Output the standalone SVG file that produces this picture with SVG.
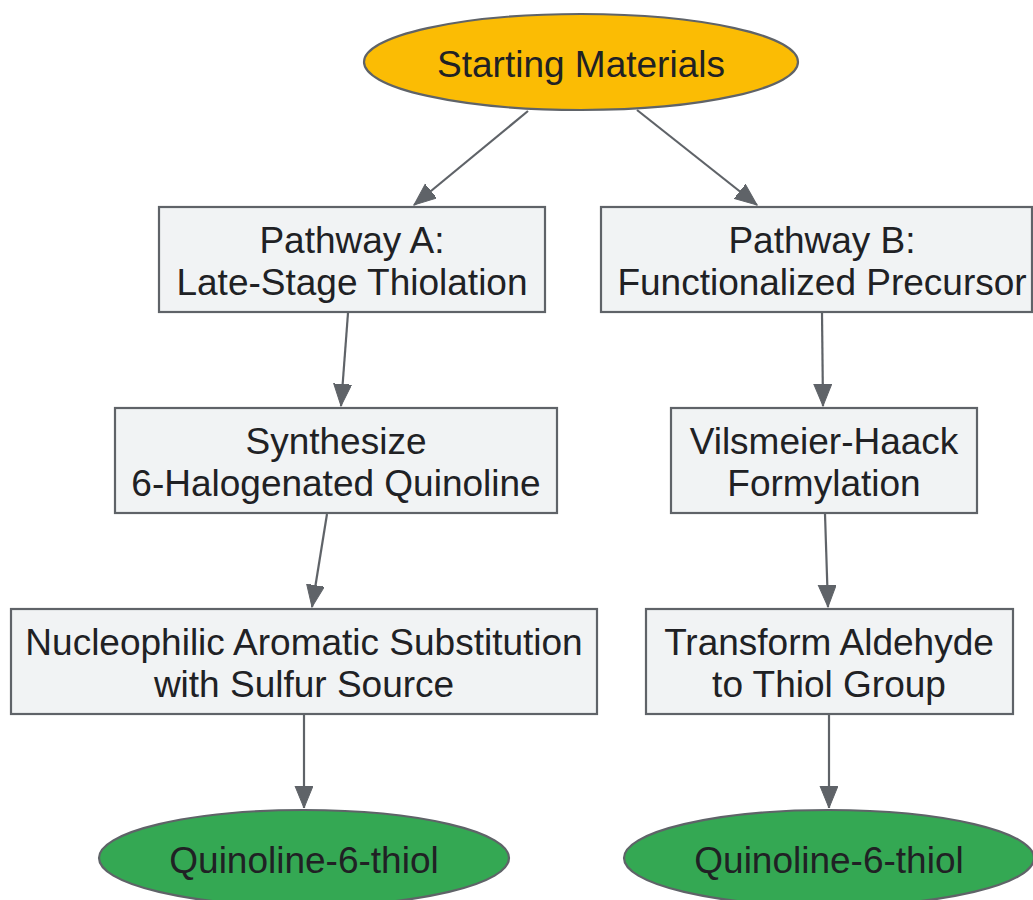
<svg xmlns="http://www.w3.org/2000/svg" width="1033" height="900" viewBox="0 0 1033 900">
<style>
.n{stroke:#5f6368;stroke-width:2.2}
.box{fill:#f1f3f4}
.start{fill:#fbbc04}
.end{fill:#34a853}
text{font-family:"Liberation Sans",Arial,sans-serif;font-size:37px;fill:#202124;text-anchor:middle}
.e{stroke:#5f6368;stroke-width:2.2;fill:none;marker-end:url(#ah)}
</style>
<defs>
<marker id="ah" markerUnits="userSpaceOnUse" markerWidth="24" markerHeight="20" refX="22" refY="9" orient="auto">
<path d="M0,0 L22,9 L0,18 Z" fill="#5f6368" stroke="#5f6368" stroke-width="1"/>
</marker>
</defs>
<rect width="1033" height="900" fill="#ffffff"/>
<g id="connectors">
<path class="e" d="M528,111 L414,205"/>
<path class="e" d="M637,110 L757,205"/>
<path class="e" d="M348,313 L341,406"/>
<path class="e" d="M822,313 L823,406"/>
<path class="e" d="M327,514 L312,607"/>
<path class="e" d="M825,514 L828,607"/>
<path class="e" d="M304,715 L304,808"/>
<path class="e" d="M829,715 L829,808"/>
</g>
<g id="start">
<ellipse class="n start" cx="581" cy="62" rx="217" ry="48"/>
<text x="581" y="77">Starting Materials</text>
</g>
<g id="pathA">
<rect class="n box" x="159" y="207" width="386" height="105"/>
<text x="352" y="253">Pathway A:</text>
<text x="352" y="295">Late-Stage Thiolation</text>
</g>
<g id="pathB">
<rect class="n box" x="601" y="207" width="431" height="105"/>
<text x="822" y="253">Pathway B:</text>
<text x="822" y="295">Functionalized Precursor</text>
</g>
<g id="synth">
<rect class="n box" x="115" y="408" width="442" height="105"/>
<text x="336" y="454">Synthesize</text>
<text x="336" y="496">6-Halogenated Quinoline</text>
</g>
<g id="vils">
<rect class="n box" x="671" y="408" width="306" height="105"/>
<text x="824" y="454">Vilsmeier-Haack</text>
<text x="824" y="496">Formylation</text>
</g>
<g id="snar">
<rect class="n box" x="11" y="609" width="586" height="105"/>
<text x="304" y="655">Nucleophilic Aromatic Substitution</text>
<text x="304" y="697">with Sulfur Source</text>
</g>
<g id="transform">
<rect class="n box" x="646" y="609" width="367" height="105"/>
<text x="829" y="655">Transform Aldehyde</text>
<text x="829" y="697">to Thiol Group</text>
</g>
<g id="productA">
<ellipse class="n end" cx="304" cy="858" rx="205" ry="48"/>
<text x="304" y="873">Quinoline-6-thiol</text>
</g>
<g id="productB">
<ellipse class="n end" cx="829" cy="858" rx="205" ry="48"/>
<text x="829" y="873">Quinoline-6-thiol</text>
</g>
</svg>
